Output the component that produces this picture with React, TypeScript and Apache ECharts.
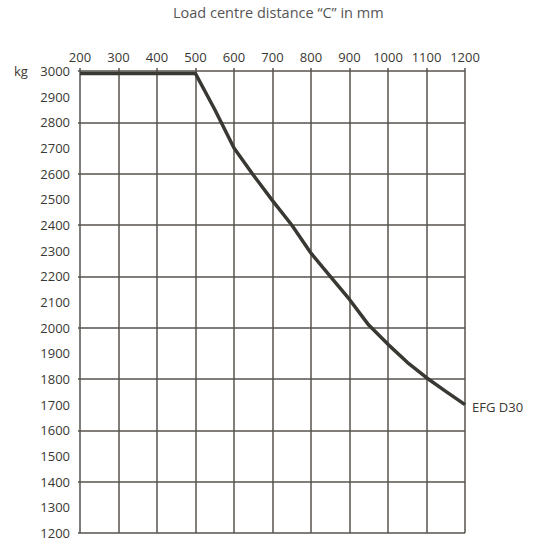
import React, { useEffect, useRef } from "react";
import * as echarts from "echarts";

const distances = [200, 500, 550, 600, 650, 700, 750, 800, 850, 900, 950, 1000, 1050, 1100, 1150, 1200];
const capacities = [2990, 2990, 2850, 2700, 2595, 2495, 2400, 2290, 2200, 2110, 2010, 1935, 1865, 1805, 1752, 1700];
const seriesName = "EFG D30";
const titleText = "Load centre distance “C” in mm";
const unitText = "kg";

const FONT = "Open Sans";
const INK = "#3a3833";
const GRID = "#57534c";

export default function App() {
  const ref = useRef<HTMLDivElement>(null);
  useEffect(() => {
    if (!ref.current) return;
    const chart = echarts.init(ref.current, undefined, { renderer: "svg" });
    const data = distances.map((d, i) => [d, capacities[i]]);
    const plain = (v: number) => String(v);
    chart.setOption({
      animation: false,
      backgroundColor: "#ffffff",
      grid: { left: 80, top: 71, width: 385, height: 462, containLabel: false },
      xAxis: {
        type: "value",
        position: "top",
        min: 200,
        max: 1200,
        interval: 100,
        axisLine: { show: false },
        axisTick: { show: true, length: 3, lineStyle: { color: GRID, width: 1.5 } },
        axisLabel: { color: INK, fontFamily: FONT, fontSize: 13, margin: 8, formatter: plain },
        splitLine: { show: true, lineStyle: { color: GRID, width: 1.5 } },
      },
      yAxis: [
        {
          type: "value",
          min: 1200,
          max: 3000,
          interval: 100,
          position: "left",
          axisLine: { show: false },
          axisTick: { show: false },
          axisLabel: { color: INK, fontFamily: FONT, fontSize: 13, margin: 10, formatter: plain },
          splitLine: { show: false },
        },
        {
          type: "value",
          min: 1200,
          max: 3000,
          interval: 200,
          position: "left",
          axisLine: { show: false },
          axisTick: { show: true, length: 2, lineStyle: { color: GRID, width: 1.5 } },
          axisLabel: { show: false },
          splitLine: { show: true, lineStyle: { color: GRID, width: 1.5 } },
        },
      ],
      series: [
        {
          name: seriesName,
          type: "line",
          yAxisIndex: 0,
          data,
          symbol: "none",
          smooth: false,
          lineStyle: { color: INK, width: 3.5, join: "round", cap: "butt" },
          z: 5,
        },
      ],
      graphic: [
        {
          type: "text",
          left: 173,
          top: 5,
          style: { text: titleText, fill: "#555", font: `14.5px "${FONT}"` },
        },
        {
          type: "text",
          left: 14,
          top: 64,
          style: { text: unitText, fill: INK, font: `13px "${FONT}"` },
        },
        {
          type: "text",
          left: 472,
          top: 400,
          style: { text: seriesName, fill: INK, font: `13px "${FONT}"` },
        },
      ],
    });
    return () => chart.dispose();
  }, []);
  return <div ref={ref} style={{ width: 539, height: 547, position: "fixed", left: 0, top: 0 }} />;
}
